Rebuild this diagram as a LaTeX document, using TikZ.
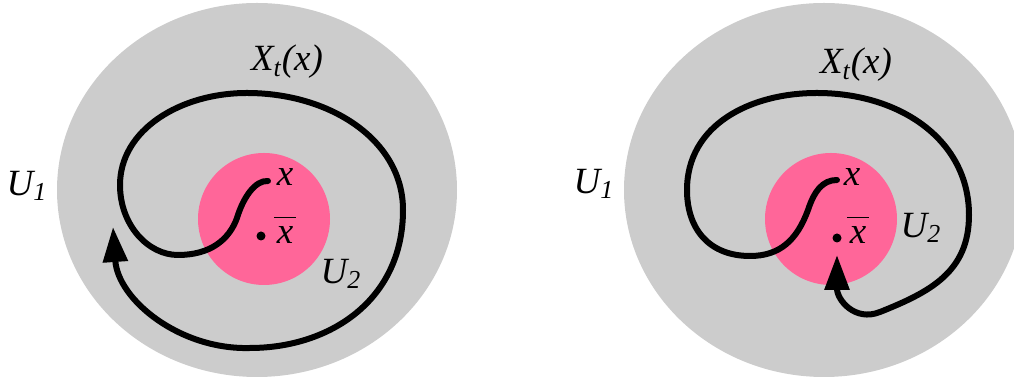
\documentclass[tikz,border=0pt]{standalone}
\usepackage{fontspec}
\setmainfont{Liberation Serif}
\usetikzlibrary{arrows.meta}
\definecolor{halo}{HTML}{CCCCCC}
\definecolor{nucleo}{HTML}{FF6699}
\tikzset{
  orbita/.style={line width=3bp, line cap=round, line join=round},
  punta/.style={-{Triangle[length=17.5bp,width=12bp]}},
  etiq/.style={font=\fontsize{18.5bp}{20bp}\selectfont\itshape, inner sep=0pt},
}
\newcommand{\xbarra}{$\overline{\vphantom{X}\hbox{\kern1.5bp x\kern1.5bp}}$}
\begin{document}
\begin{tikzpicture}[x=0.5bp,y=-0.5bp]
  \clip (0,0) rectangle (1014,381);
  % izquierda
  \fill[halo] (257,190) ellipse [x radius=200, y radius=187];
  \fill[nucleo] (264,219) circle[radius=66];
  \coordinate (xa) at (268,181);
  \coordinate (xfa) at (261,236);
  \coordinate (fina) at (113,227);
  \draw[orbita,punta] (xa) .. controls (255,180) and (243,198) .. (237,218)
    .. controls (229,240) and (210,255) .. (178,255)
    .. controls (148,255) and (120,225) .. (120,185)
    .. controls (120,130) and (180,93) .. (247,93)
    .. controls (330,93) and (403,140) .. (403,210)
    .. controls (403,300) and (330,348) .. (250,348)
    .. controls (180,350) and (118,300) .. (fina);
  \fill (xfa) circle[radius=4.5];
  \node[etiq] (Xa) at (287,62) {X\textsubscript{t}(x)};
  \node[etiq] (U1a) at (27,186) {U\textsubscript{1}};
  \node[etiq] (Pa) at (285,177) {x};
  \node[etiq] (Pba) at (285,230) {\xbarra};
  \node[etiq] (U2a) at (341,274) {U\textsubscript{2}};

  % derecha
  \fill[halo] (824,190) ellipse [x radius=200, y radius=187];
  \fill[nucleo] (831,219) circle[radius=66];
  \coordinate (xb) at (837,180);
  \coordinate (xfb) at (837,238);
  \coordinate (finb) at (837,255);
  \draw[orbita,punta] (xb) .. controls (822,180) and (814,192) .. (808,210)
    .. controls (797,240) and (780,256) .. (750,256)
    .. controls (710,256) and (687,230) .. (687,190)
    .. controls (687,125) and (750,93) .. (817,93)
    .. controls (900,93) and (969,140) .. (969,215)
    .. controls (969,272) and (930,292) .. (880,312)
    .. controls (855,322) and (837,300) .. (finb);
  \fill (xfb) circle[radius=4.5];
  \node[etiq] (Xb) at (856,65) {X\textsubscript{t}(x)};
  \node[etiq] (U1b) at (594,184) {U\textsubscript{1}};
  \node[etiq] (Pb) at (852,177) {x};
  \node[etiq] (Pbb) at (858,230) {\xbarra};
  \node[etiq] (U2b) at (921,228) {U\textsubscript{2}};
\end{tikzpicture}
\end{document}
